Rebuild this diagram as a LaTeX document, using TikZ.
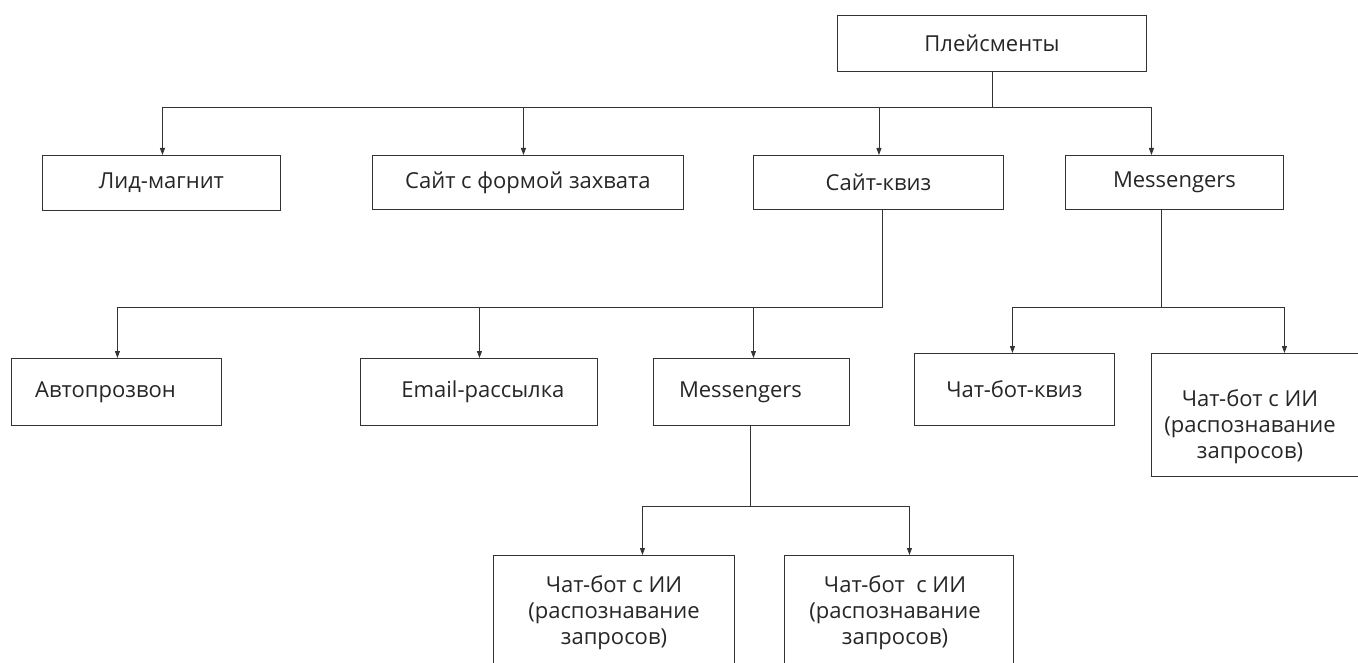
\documentclass[tikz,border=0pt]{standalone}
\usepackage{fontspec}
\setmainfont{Open Sans}
\usetikzlibrary{arrows.meta,positioning}
\definecolor{ln}{HTML}{333333}
\definecolor{tx}{HTML}{262626}
\tikzset{
  box/.style={draw=ln, line width=0.9pt, rectangle, inner sep=0pt, align=center,
    text=tx, font=\fontsize{22}{26}\selectfont, anchor=north west},
  btxt/.style={text=tx, font=\fontsize{22}{26}\selectfont, align=center, inner sep=0pt},
  conn/.style={draw=ln, line width=0.9pt},
  arr/.style={conn, -{Triangle[length=7pt,width=5pt]}}
}
\newcommand{\bx}[6]{% name, x1, y1, x2, y2, text
  \node[box, minimum width={(#4-#2)*1pt}, minimum height={(#5-#3)*1pt}] (#1) at (#2,#3) {#6};}
\begin{document}
\begin{tikzpicture}[x=1pt,y=-1pt]
\useasboundingbox (0,0) rectangle (1358,663);
\clip (0,0) rectangle (1358,663);
% boxes
\bx{P}{837}{15}{1146}{71}{Плейсменты}
\bx{L1}{42}{155}{280}{210}{Лид-магнит}
\bx{L2}{372}{155}{683}{209}{Сайт с формой захвата}
\bx{L3}{753}{155}{1003}{209}{Сайт-квиз}
\bx{L4}{1065}{155}{1283}{209}{Messengers}
\bx{A1}{11}{358}{221}{425}{Автопрозвон\hspace*{22pt}}
\bx{A2}{360}{358}{597}{425}{\hspace*{8pt}Email-рассылка}
\bx{A3}{653}{358}{849}{425}{Messengers\hspace*{22pt}}
\bx{B1}{914}{353}{1114}{425}{Чат-бот-квиз}
\node[box, minimum width=260pt, minimum height=123pt] (B2) at (1151,353) {};
\node[btxt] (B2t) at (1250,427) {Чат-бот с ИИ\\(распознавание\\запросов)};
\node[box, minimum width=241pt, minimum height=140pt] (C1) at (493,555) {};
\node[btxt] (C1t) at (614,613) {Чат-бот с ИИ\\(распознавание\\запросов)};
\node[box, minimum width=229pt, minimum height=140pt] (C2) at (784,555) {};
\node[btxt] (C2t) at (895,613) {Чат-бот\ \ с ИИ\\(распознавание\\запросов)};
% level 1 connectors
\draw[conn] (P.south) -- ++(0,36) coordinate (b1);
\draw[arr] (b1) -| ([xshift=1pt]L1.north);
\draw[arr] (b1) -| ([xshift=-4.5pt]L2.north);
\draw[arr] (b1) -| ([xshift=0.5pt]L3.north);
\draw[arr] (b1) -| ([xshift=-23pt]L4.north);
% Сайт-квиз children
\draw[conn] ([xshift=4pt]L3.south) -- ++(0,98) coordinate (b2);
\draw[arr] (b2) -| ([xshift=1pt]A1.north);
\draw[arr] (b2) -| ([xshift=0.5pt]A2.north);
\draw[arr] (b2) -| ([xshift=2pt]A3.north);
% Messengers children
\draw[conn] ([xshift=-13pt]L4.south) -- ++(0,98) coordinate (b3);
\draw[arr] (b3) -| ([xshift=-2pt]B1.north);
\draw[arr] (b3) -| ([xshift=3pt]B2.north);
% Messengers2 children
\draw[conn] ([xshift=-1pt]A3.south) -- ++(0,81) coordinate (b4);
\draw[arr] (b4) -| ([xshift=28.5pt]C1.north);
\draw[arr] (b4) -| ([xshift=10.5pt]C2.north);
\end{tikzpicture}
\end{document}
